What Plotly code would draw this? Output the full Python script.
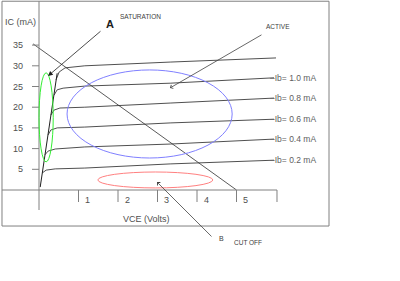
import plotly.graph_objects as go

# ---------------- data ----------------
ib_labels = ["Ib= 0.2 mA", "Ib= 0.4 mA", "Ib= 0.6 mA", "Ib= 0.8 mA", "Ib= 1.0 mA", ""]
vce_02 = [0.08, 0.18, 0.41, 1.16, 3.32, 5.95]
ic_02 = [4.1, 4.8, 5.1, 5.3, 6.3, 7.2]
vce_04 = [0.15, 0.23, 0.41, 1.16, 3.32, 5.95]
ic_04 = [8.5, 9.4, 9.9, 10.4, 11.1, 12.3]
vce_06 = [0.23, 0.30, 0.46, 1.16, 3.32, 5.95]
ic_06 = [13.3, 14.5, 15.0, 15.2, 16.2, 17.1]
vce_08 = [0.30, 0.38, 0.53, 1.16, 3.32, 5.95]
ic_08 = [18.1, 19.3, 19.8, 20.0, 21.0, 22.2]
vce_10 = [0.38, 0.46, 0.61, 1.16, 3.32, 5.95]
ic_10 = [22.9, 24.2, 24.6, 25.1, 25.8, 27.1]
vce_top = [0.43, 0.51, 0.66, 1.16, 3.32, 6.0]
ic_top = [26.6, 28.5, 29.5, 30.0, 30.9, 31.9]

sat_vce = [0.03, 0.46]          # saturation (knee) line
sat_ic = [0.7, 28.2]
load_vce = [-0.15, 5.0]         # load line
load_ic = [35.3, 0.0]

x_ticks = [1, 2, 3, 4, 5]
y_ticks = [5, 10, 15, 20, 25, 30, 35]

# ---------------- figure ----------------
W, H = 400, 281
PX_PER_V = 39.5
PX_PER_MA = 4.14
X0_PX, Y0_PX = 39, 190
x_range = [-X0_PX / PX_PER_V, (W - X0_PX) / PX_PER_V]
y_range = [-(H - Y0_PX) / PX_PER_MA, Y0_PX / PX_PER_MA]

fig = go.Figure()
FONT = "Liberation Sans, Arial, sans-serif"
CURVE = "#505050"
AXIS = "#808080"

curves = [(vce_02, ic_02), (vce_04, ic_04), (vce_06, ic_06),
          (vce_08, ic_08), (vce_10, ic_10), (vce_top, ic_top)]
for (v, i), lab in zip(curves, ib_labels):
    fig.add_trace(go.Scatter(x=v, y=i, mode="lines", line=dict(color=CURVE, width=1),
                             hoverinfo="skip", showlegend=False))
    if lab:
        fig.add_annotation(x=v[-1], y=i[-1], text="\u2013" + lab, showarrow=False,
                           xanchor="left", yanchor="middle", xshift=-6,
                           font=dict(family=FONT, size=8.5, color="#606060"))

fig.add_trace(go.Scatter(x=sat_vce, y=sat_ic, mode="lines", line=dict(color="#202020", width=1),
                         hoverinfo="skip", showlegend=False))
fig.add_trace(go.Scatter(x=load_vce, y=load_ic, mode="lines", line=dict(color="#303030", width=0.8),
                         hoverinfo="skip", showlegend=False))

# frame and axes
xmin_frame, xmax_frame = -0.937, 7.342
ymin_frame, ymax_frame = -8.70, 45.6
fig.add_shape(type="rect", x0=xmin_frame, x1=xmax_frame, y0=ymin_frame, y1=ymax_frame,
              line=dict(color=AXIS, width=1))
fig.add_shape(type="line", x0=0, x1=0, y0=-4.83, y1=ymax_frame, line=dict(color=AXIS, width=1))
fig.add_shape(type="line", x0=xmin_frame, x1=6.025, y0=0, y1=0, line=dict(color=AXIS, width=1))
for t in x_ticks + [6.025]:
    fig.add_shape(type="line", x0=t, x1=t, y0=0, y1=-2.9, line=dict(color=AXIS, width=1))
for t in x_ticks:
    fig.add_annotation(x=t + 0.23, y=-2.5, text=str(t), showarrow=False,
                       font=dict(family=FONT, size=9, color="#505050"))
for t in y_ticks:
    fig.add_shape(type="line", x0=-0.177, x1=0, y0=t, y1=t, line=dict(color=AXIS, width=1))
    fig.add_annotation(x=-0.354, y=t, text=str(t), showarrow=False, xanchor="right",
                       font=dict(family=FONT, size=9, color="#505050"))

fig.add_annotation(x=-0.48, y=40.6, text="IC (mA)", showarrow=False,
                   font=dict(family=FONT, size=9, color="#505050"))
fig.add_annotation(x=2.73, y=-7.0, text="VCE (Volts)", showarrow=False,
                   font=dict(family=FONT, size=9, color="#505050"))

# region ellipses
fig.add_shape(type="circle", x0=0.71, x1=4.89, y0=7.73, y1=29.0, line=dict(color="#8080ff", width=1))
fig.add_shape(type="circle", x0=1.49, x1=4.40, y0=0.5, y1=4.35, line=dict(color="#ff8080", width=1))
fig.add_shape(type="circle", x0=0.0, x1=0.36, y0=6.8, y1=28.3, line=dict(color="#33ee33", width=1))

# arrows and region labels
fig.add_annotation(x=0.228, y=27.54, ax=1.595, ay=38.65, xref="x", yref="y", axref="x", ayref="y",
                   text="", showarrow=True, arrowhead=2, arrowsize=1.2, arrowwidth=0.8,
                   arrowcolor="#202020")
fig.add_annotation(x=3.316, y=24.64, ax=5.67, ay=37.68, xref="x", yref="y", axref="x", ayref="y",
                   text="", showarrow=True, arrowhead=4, arrowsize=1, arrowwidth=0.8,
                   arrowcolor="#404040")
fig.add_annotation(x=2.987, y=1.93, ax=4.405, ay=-11.59, xref="x", yref="y", axref="x", ayref="y",
                   text="", showarrow=True, arrowhead=4, arrowsize=1, arrowwidth=0.8,
                   arrowcolor="#404040")

fig.add_annotation(x=1.80, y=40.1, text="<b>A</b>", showarrow=False,
                   font=dict(family=FONT, size=11, color="#202020"))
fig.add_annotation(x=2.58, y=41.8, text="SATURATION", showarrow=False,
                   font=dict(family=FONT, size=6.5, color="#404040"))
fig.add_annotation(x=6.05, y=39.6, text="ACTIVE", showarrow=False,
                   font=dict(family=FONT, size=6.5, color="#404040"))
fig.add_annotation(x=4.62, y=-11.8, text="B", showarrow=False,
                   font=dict(family=FONT, size=7, color="#404040"))
fig.add_annotation(x=5.29, y=-12.56, text="CUT OFF", showarrow=False,
                   font=dict(family=FONT, size=6.5, color="#404040"))

fig.update_layout(width=W, height=H, margin=dict(l=0, r=0, t=0, b=0),
                  paper_bgcolor="white", plot_bgcolor="white",
                  xaxis=dict(range=x_range, visible=False, fixedrange=True),
                  yaxis=dict(range=y_range, visible=False, fixedrange=True),
                  showlegend=False)
fig.write_html("out.html", config={"displayModeBar": False})
